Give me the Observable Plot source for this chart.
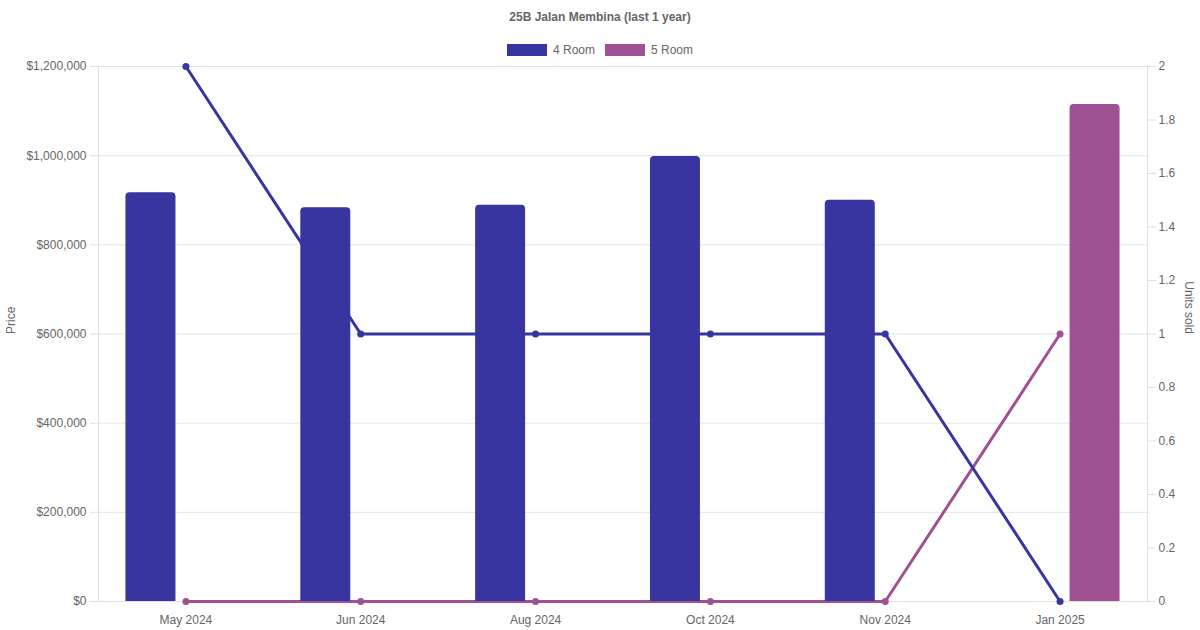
<!DOCTYPE html>
<html>
<head>
<meta charset="utf-8">
<script src="https://cdn.jsdelivr.net/npm/d3@7"></script>
<script src="https://cdn.jsdelivr.net/npm/@observablehq/plot@0.6"></script>
<style>
  html, body { margin: 0; padding: 0; background: #fff; }
  body { width: 1200px; height: 630px; overflow: hidden; font-family: "Liberation Sans", Arial, Helvetica, sans-serif; color: #666; }
  #title { height: 34px; line-height: 35px; text-align: center; font-size: 12px; font-weight: bold; color: #666; }
  #legend { height: 16px; padding-top: 8px; display: flex; justify-content: center; align-items: center; font-size: 12px; color: #666; }
  .item { display: flex; align-items: center; margin: 0 5px; }
  .sw { width: 40px; height: 12px; margin-right: 6px; box-sizing: border-box; }
  #chart svg { display: block; overflow: visible; }
</style>
</head>
<body>
<div id="title">25B Jalan Membina (last 1 year)</div>
<div id="legend"></div>
<div id="chart"></div>
<script>
const months = ["May 2024", "Jun 2024", "Aug 2024", "Oct 2024", "Nov 2024", "Jan 2025"];
const series = ["4 Room", "5 Room"];
const colors = ["#3935a0", "#a05193"];
const price4Room = [917000, 883000, 889000, 998000, 900000, null];
const price5Room = [null, null, null, null, null, 1115000];
const units4Room = [2, 1, 1, 1, 1, 0];
const units5Room = [0, 0, 0, 0, 0, 1];
const priceTicks = [0, 200000, 400000, 600000, 800000, 1000000, 1200000];
const unitTicks = [0, 0.2, 0.4, 0.6, 0.8, 1, 1.2, 1.4, 1.6, 1.8, 2];

const priceMax = 1200000, unitMax = 2;
const k = priceMax / unitMax; // units -> price axis

// legend
const legend = document.getElementById("legend");
series.forEach((s, i) => {
  const it = document.createElement("div");
  it.className = "item";
  it.innerHTML = `<span class="sw" style="background:${colors[i]};border:1px solid ${colors[i]}"></span><span>${s}</span>`;
  legend.appendChild(it);
});

const bars = [];
const lines = [];
months.forEach((m, i) => {
  if (price4Room[i] != null) bars.push({month: m, series: "4 Room", price: price4Room[i], side: -1});
  if (price5Room[i] != null) bars.push({month: m, series: "5 Room", price: price5Room[i], side: 1});
  lines.push({month: m, series: "4 Room", units: units4Room[i]});
  lines.push({month: m, series: "5 Room", units: units5Room[i]});
});

const W = 1200, H = 572;
const mL = 98, mR = 53, mT = 8, mB = 29;
const bw = (W - mL - mR) / months.length;
const barW = 50;
const off = bw * 0.8 / 4;
const inset = (bw - barW) / 2;
const colorOf = s => colors[series.indexOf(s)];

const marks = [
  Plot.gridY(priceTicks, {stroke: "#e5e5e5", strokeOpacity: 1}),
  Plot.frame({stroke: "#e0e0e0"}),
  // lines (drawn beneath bars)
  ...["5 Room", "4 Room"].map(s => [
    Plot.line(lines.filter(d => d.series === s), {x: "month", y: d => d.units * k, stroke: colorOf(s), strokeWidth: 3}),
    Plot.dot(lines.filter(d => d.series === s), {x: "month", y: d => d.units * k, fill: colorOf(s), r: 3.5})
  ]).flat(),
  // bars with rounded tops (bottom corners extend below the frame and are clipped)
  ...[-1, 1].map(side => Plot.barY(bars.filter(d => d.side === side), {
    x: "month", y1: 0, y2: "price", fill: d => colorOf(d.series),
    dx: side * off, insetLeft: inset, insetRight: inset, insetBottom: -8, rx: 4, clip: true
  })),
  Plot.axisY(priceTicks, {anchor: "left", tickFormat: d => "$" + d3.format(",")(d), tickSize: 8, tickPadding: 4, stroke: "#e0e0e0", label: null, fontSize: 12, color: "#666"}),
  Plot.axisY(unitTicks.map(u => u * k), {anchor: "right", tickFormat: d => String(+(d / k).toFixed(1)), tickSize: 8, tickPadding: 3, stroke: "#e0e0e0", label: null, fontSize: 12, color: "#666"}),
  Plot.axisX({tickSize: 0, tickPadding: 14, label: null, fontSize: 12, color: "#666"}),
  Plot.text(["Price"], {frameAnchor: "left", dx: -87, rotate: -90, fontSize: 12, fill: "#666"}),
  Plot.text(["Units sold"], {frameAnchor: "right", dx: 41, rotate: 90, fontSize: 12, fill: "#666"})
];

const chart = Plot.plot({
  width: W, height: H,
  marginLeft: mL, marginRight: mR, marginTop: mT, marginBottom: mB,
  style: {fontFamily: '"Liberation Sans", Arial, Helvetica, sans-serif', fontSize: "12px", color: "#666", background: "transparent", overflow: "visible"},
  x: {domain: months, type: "band", padding: 0, round: false, axis: null},
  y: {domain: [0, priceMax], axis: null},
  marks
});
document.getElementById("chart").appendChild(chart);
</script>
</body>
</html>
